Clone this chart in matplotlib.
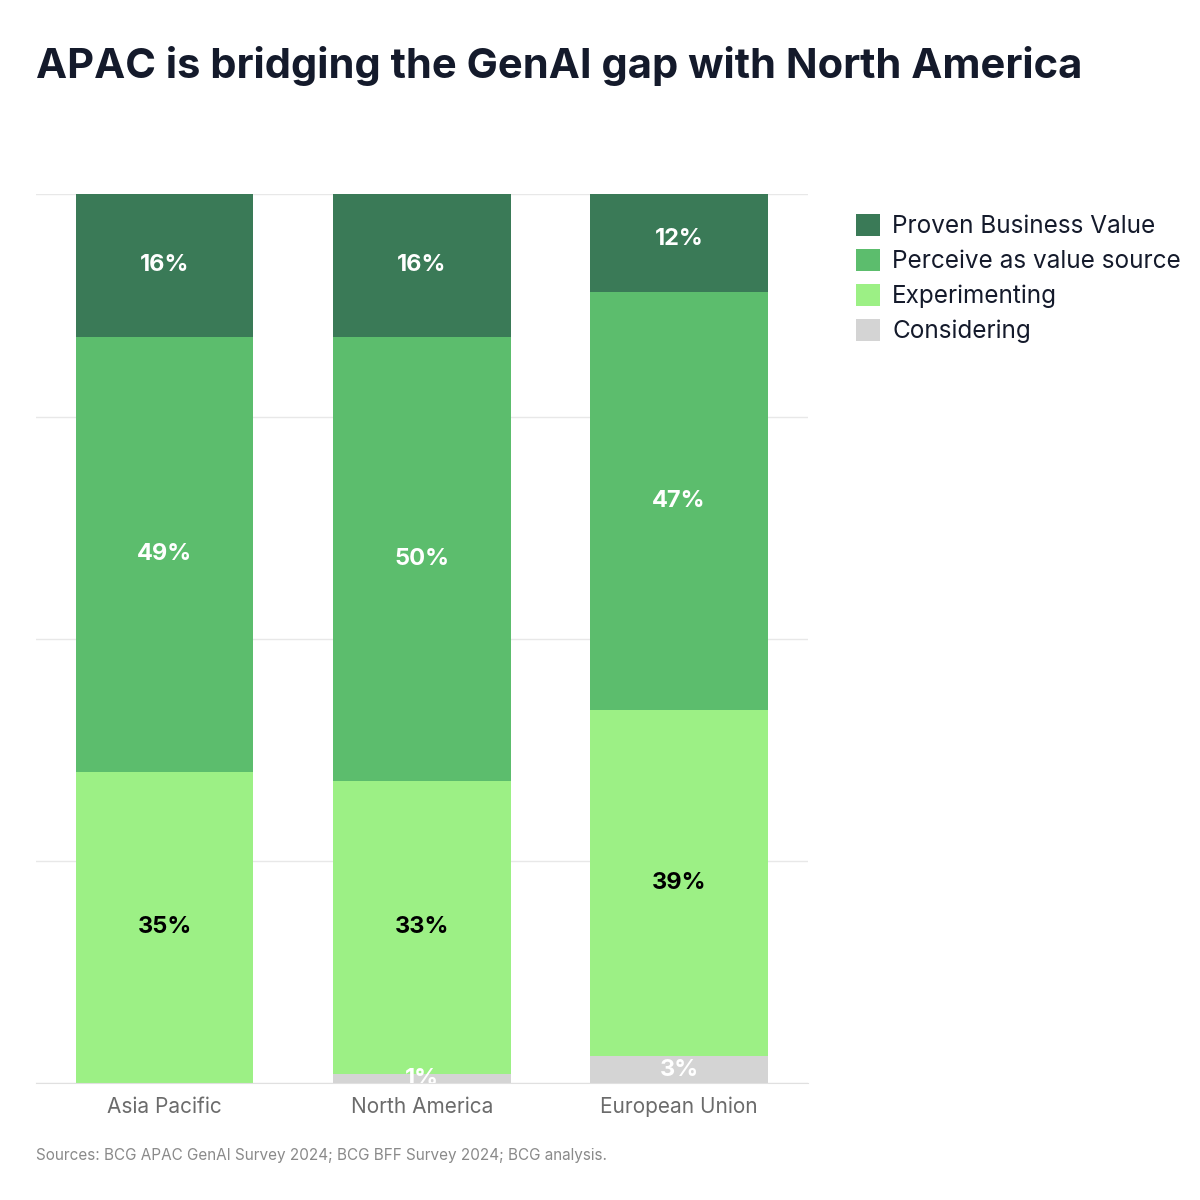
import matplotlib.pyplot as plt
import numpy as np

plt.rcParams['font.family'] = ['Inter', 'DejaVu Sans']

regions = ["Asia Pacific", "North America", "European Union"]
series = ["Considering", "Experimenting", "Perceive as value source", "Proven Business Value"]
considering = [0, 1, 3]
experimenting = [35, 33, 39]
perceive = [49, 50, 47]
proven = [16, 16, 12]
values = [considering, experimenting, perceive, proven]
colors = ["#d4d4d4", "#9cf085", "#5cbd6d", "#3a7a57"]
text_colors = ["white", "black", "white", "white"]

fig = plt.figure(figsize=(12, 12), dpi=100)
ax = fig.add_axes([0.03, 0.0975, 0.643, 0.7405])
x = np.arange(len(regions))
bottom = np.zeros(len(regions))
handles = []
for vals, c, tc, name in zip(values, colors, text_colors, series):
    vals = np.array(vals, dtype=float)
    h = ax.bar(x, vals, 0.69, bottom=bottom, color=c, label=name, zorder=2)
    handles.append(h)
    for xi, v, b in zip(x, vals, bottom):
        if v > 0:
            ax.text(xi, b + v / 2, f"{int(v)}%", ha='center', va='center', color=tc,
                    fontsize=17, fontweight='bold', clip_on=True, zorder=3)
    bottom += vals

ax.set_xlim(-0.5, 2.5)
ax.set_ylim(0, 100)
ax.set_yticks([0, 25, 50, 75, 100])
ax.set_yticklabels([])
ax.tick_params(axis='y', length=0)
ax.grid(axis='y', color='#e8e8e8', linewidth=1, zorder=0)
ax.set_xticks(x)
ax.set_xticklabels(regions, fontsize=15, color='#6b6b6b')
ax.tick_params(axis='x', length=0, pad=10)
for s in ['left', 'right', 'top']:
    ax.spines[s].set_visible(False)
ax.spines['bottom'].set_color('#e0e0e0')

fig.text(0.03, 0.945, "APAC is bridging the GenAI gap with North America", fontsize=30,
         fontweight='bold', color='#141a2b', va='center')
fig.text(0.03, 0.037, "Sources: BCG APAC GenAI Survey 2024; BCG BFF Survey 2024; BCG analysis.",
         fontsize=11, color='#8a8a8a', va='center')

leg = fig.legend(handles[::-1], series[::-1], loc='upper left', bbox_to_anchor=(0.695, 0.84),
                 frameon=False, fontsize=17.5, handlelength=1.0, handleheight=1.0,
                 handletextpad=0.5, labelspacing=0.45, labelcolor='#141a2b')

fig.savefig("out.png", dpi=100)
